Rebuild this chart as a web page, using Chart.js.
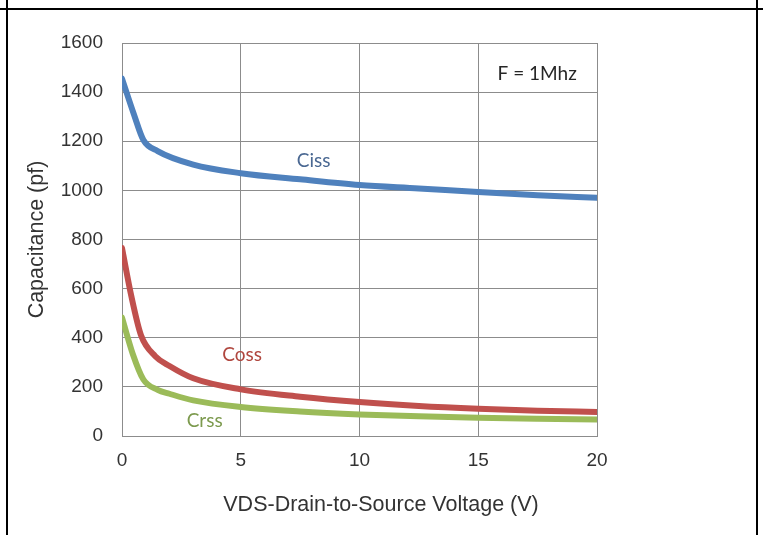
<!DOCTYPE html>
<html>
<head>
<meta charset="utf-8">
<script src="https://cdn.jsdelivr.net/npm/chart.js@4"></script>
<style>
    body { margin: 0; background: #fff; }
    #wrap { position: relative; width: 763px; height: 535px; overflow: hidden; }
    .rule { position: absolute; background: #000; }
</style>
</head>
<body>
<div id="wrap">
    <canvas id="capChart" width="763" height="535"></canvas>
    <div class="rule" style="left:0; top:8px; width:763px; height:2px;"></div>
    <div class="rule" style="left:6px; top:0; width:2px; height:535px;"></div>
    <div class="rule" style="left:756px; top:0; width:2px; height:535px;"></div>
</div>
<script>
// drain-source voltage points (V)
const vdsCiss = [0, 0.5, 0.9, 1.5, 3, 5, 7.5, 10, 12.5, 15, 17.5, 20];
const ciss = [1455, 1310, 1205, 1160, 1105, 1070, 1045, 1022, 1008, 993, 980, 970];

const vdsCoss = [0, 0.4, 0.8, 1.4, 2, 3, 5, 7.5, 10, 12.5, 15, 17.5, 20];
const coss = [765, 566, 410, 325, 285, 235, 190, 160, 138, 122, 111, 103, 98];

const vdsCrss = [0, 0.45, 0.9, 1.5, 2, 3, 5, 7.5, 10, 12.5, 15, 17.5, 20];
const crss = [482, 335, 230, 188, 172, 145, 118, 100, 88, 80, 74, 70, 67];

const xTicks = [0, 5, 10, 15, 20];
const yTicks = [0, 200, 400, 600, 800, 1000, 1200, 1400, 1600];

const toPoints = (xs, ys) => xs.map((x, i) => ({ x: x, y: ys[i] }));

// curve labels and the test-condition note, placed in data coordinates
const notes = [
    { text: 'F = 1Mhz', x: 19.15, y: 1475, color: '#262626', align: 'right' },
    { text: 'Ciss', x: 8.07, y: 1120, color: '#4a6892', align: 'center' },
    { text: 'Coss', x: 5.06, y: 330, color: '#b0473f', align: 'center' },
    { text: 'Crss', x: 3.48, y: 60, color: '#7c9a4e', align: 'center' }
];

const labelPlugin = {
    id: 'labelPlugin',
    afterDraw(chart) {
        const ctx = chart.ctx;
        const xs = chart.scales.x;
        const ys = chart.scales.y;
        ctx.save();
        ctx.font = '19px Lato';
        ctx.textBaseline = 'middle';
        notes.forEach(n => {
            ctx.fillStyle = n.color;
            ctx.textAlign = n.align;
            ctx.fillText(n.text, xs.getPixelForValue(n.x), ys.getPixelForValue(n.y));
        });
        // x axis title
        ctx.font = '21.5px "Liberation Sans"';
        ctx.fillStyle = '#333';
        ctx.textAlign = 'center';
        ctx.fillText('VDS-Drain-to-Source Voltage (V)', 381, 505);
        ctx.restore();
    }
};

const lineStyle = color => ({
    borderColor: color,
    backgroundColor: color,
    borderWidth: 6,
    pointRadius: 0,
    fill: false,
    cubicInterpolationMode: 'monotone',
    borderCapStyle: 'round',
    borderJoinStyle: 'round'
});

const tickFont = { family: 'Liberation Sans', size: 19 };

const ctx = document.getElementById('capChart').getContext('2d');
new Chart(ctx, {
    type: 'line',
    data: {
        datasets: [
            Object.assign({ label: 'Ciss', data: toPoints(vdsCiss, ciss) }, lineStyle('#4f81bd')),
            Object.assign({ label: 'Coss', data: toPoints(vdsCoss, coss) }, lineStyle('#c0504d')),
            Object.assign({ label: 'Crss', data: toPoints(vdsCrss, crss) }, lineStyle('#9bbb59'))
        ]
    },
    options: {
        responsive: false,
        animation: false,
        layout: { padding: { left: 0, top: 43, right: 166, bottom: 0 } },
        plugins: {
            legend: { display: false },
            tooltip: { enabled: false }
        },
        scales: {
            x: {
                type: 'linear',
                min: 0,
                max: 20,
                afterFit: scale => { scale.height = 99; },
                afterBuildTicks: scale => { scale.ticks = xTicks.map(v => ({ value: v })); },
                grid: { color: '#8c8c8c', drawTicks: false },
                border: { color: '#8c8c8c' },
                ticks: { color: '#333', padding: 13, font: tickFont, callback: v => String(v) }
            },
            y: {
                min: 0,
                max: 1600,
                afterFit: scale => { scale.width = 122; },
                afterBuildTicks: scale => { scale.ticks = yTicks.map(v => ({ value: v })); },
                grid: { color: '#8c8c8c', drawTicks: false },
                border: { color: '#8c8c8c' },
                ticks: { color: '#333', padding: 19, font: tickFont, callback: v => String(v) },
                title: {
                    display: true,
                    text: 'Capacitance (pf)',
                    color: '#333',
                    padding: { top: 24, bottom: 0 },
                    font: { family: 'Liberation Sans', size: 21.5 }
                }
            }
        }
    },
    plugins: [labelPlugin]
});
</script>
</body>
</html>
